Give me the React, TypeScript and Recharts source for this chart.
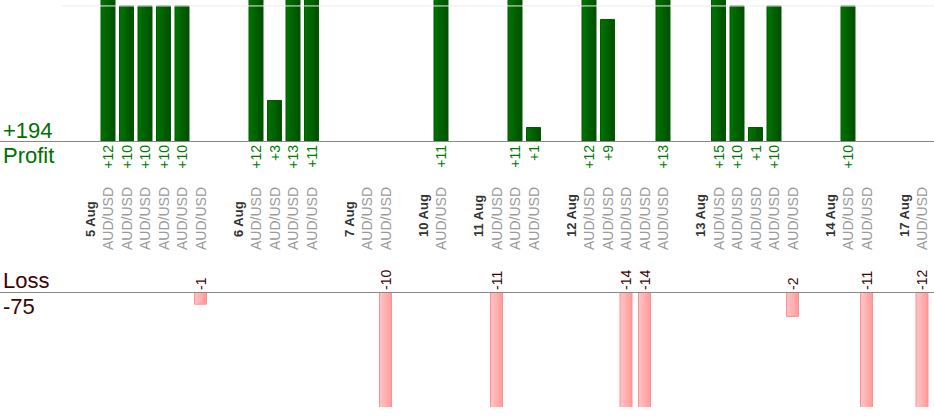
import * as React from "react";
import { BarChart, Bar, XAxis, YAxis, ReferenceLine } from "recharts";

// trading days and the result of every trade (points), in order
const days = ["5 Aug", "6 Aug", "7 Aug", "10 Aug", "11 Aug", "12 Aug", "13 Aug", "14 Aug", "17 Aug"];
const tradesByDay = [
  [12, 10, 10, 10, 10, -1],
  [12, 3, 13, 11],
  [0, -10],
  [11],
  [-11, 11, 1],
  [12, 9, -14, -14, 13],
  [15, 10, 1, 10, -2],
  [10, -11],
  [-12],
];
const symbol = "AUD/USD";
const totalProfit = "+194";
const totalLoss = "-75";

const FONT = "'Liberation Sans', Arial, sans-serif";

type Row = {
  key: string;
  kind: "gap" | "date" | "trade";
  label: string;
  profit: number | null;
  loss: number | null;
};

// one column per trade, a date column before each day and an empty column after it
const rows: Row[] = [];
rows.push({ key: "c0", kind: "gap", label: "", profit: null, loss: null });
days.forEach((d, i) => {
  rows.push({ key: "c" + rows.length, kind: "date", label: d, profit: null, loss: null });
  tradesByDay[i].forEach((v) => {
    rows.push({
      key: "c" + rows.length,
      kind: "trade",
      label: symbol,
      profit: v > 0 ? v : null,
      loss: v < 0 ? v : null,
    });
  });
  rows.push({ key: "c" + rows.length, kind: "gap", label: "", profit: null, loss: null });
});

function ColumnTick(props: any) {
  const { x, y, index } = props;
  const r = rows[index];
  if (!r) return null;
  const tx = x + 4.8;
  if (r.kind === "date") {
    const by = y + 96;
    return (
      <text x={tx} y={by} transform={`rotate(-90 ${tx} ${by})`} fontFamily={FONT} fontSize={13}
        fontWeight="bold" fill="#333">{r.label}</text>
    );
  }
  if (r.kind !== "trade") return null;
  const sy = y + 109;
  const py = y + 4;
  const ly = y + 149;
  return (
    <g>
      {r.profit != null && (
        <text x={tx} y={py} transform={`rotate(-90 ${tx} ${py})`} textAnchor="end" fontFamily={FONT}
          fontSize={14} fill="#007a00">{"+" + r.profit}</text>
      )}
      <text x={x + 5} y={sy} transform={`rotate(-90 ${x + 5} ${sy})`} fontFamily={FONT} fontSize={14}
        fill="#9a9a9a">{r.label}</text>
      {r.loss != null && (
        <text x={tx} y={ly} transform={`rotate(-90 ${tx} ${ly})`} fontFamily={FONT} fontSize={14}
          fill="#3a0505">{String(r.loss)}</text>
      )}
    </g>
  );
}

export default function App() {
  return (
    <div style={{ position: "absolute", left: 0, top: 0, width: 934, height: 420, overflow: "hidden", background: "#fff" }}>
      <div style={{ position: "absolute", left: 0, top: 0 }}>
        <BarChart width={950} height={292} data={rows} margin={{ top: 0, right: 0, left: 62, bottom: 0 }}>
          <defs>
            <linearGradient id="gProfit" x1="0" y1="0" x2="1" y2="0">
              <stop offset="0%" stopColor="#007400" />
              <stop offset="100%" stopColor="#004e00" />
            </linearGradient>
          </defs>
          <XAxis dataKey="key" height={151} interval={0} axisLine={false} tickLine={false} tickSize={0}
            tickMargin={0} tick={<ColumnTick />} />
          <YAxis hide domain={[0, 10.44]} allowDataOverflow />
          <ReferenceLine y={10} stroke="#ececec" />
          <Bar dataKey="profit" barSize={14} fill="url(#gProfit)" stroke="#005a00" isAnimationActive={false} />
        </BarChart>
      </div>
      <div style={{ position: "absolute", left: 0, top: 292 }}>
        <BarChart width={950} height={115} data={rows} margin={{ top: 0, right: 0, left: 62, bottom: 0 }}>
          <defs>
            <linearGradient id="gLoss" x1="0" y1="0" x2="1" y2="0">
              <stop offset="0%" stopColor="#ffc6c6" />
              <stop offset="100%" stopColor="#ff9a9a" />
            </linearGradient>
          </defs>
          <XAxis dataKey="key" hide />
          <YAxis hide domain={[-9.4, 0]} allowDataOverflow />
          <Bar dataKey="loss" barSize={12} fill="url(#gLoss)" stroke="#ff9090" isAnimationActive={false} />
        </BarChart>
      </div>
      <svg width={934} height={420} style={{ position: "absolute", left: 0, top: 0, pointerEvents: "none" }}>
        <line x1={0} x2={934} y1={141.5} y2={141.5} stroke="#888" />
        <line x1={0} x2={934} y1={292.5} y2={292.5} stroke="#888" />
        <text x={3} y={137.5} fontFamily={FONT} fontSize={22} fill="#007000">{totalProfit}</text>
        <text x={3} y={162.5} fontFamily={FONT} fontSize={22} fill="#007000">Profit</text>
        <text x={3} y={287.5} fontFamily={FONT} fontSize={22} fill="#3a0505">Loss</text>
        <text x={3} y={313.5} fontFamily={FONT} fontSize={22} fill="#3a0505">{totalLoss}</text>
      </svg>
    </div>
  );
}
